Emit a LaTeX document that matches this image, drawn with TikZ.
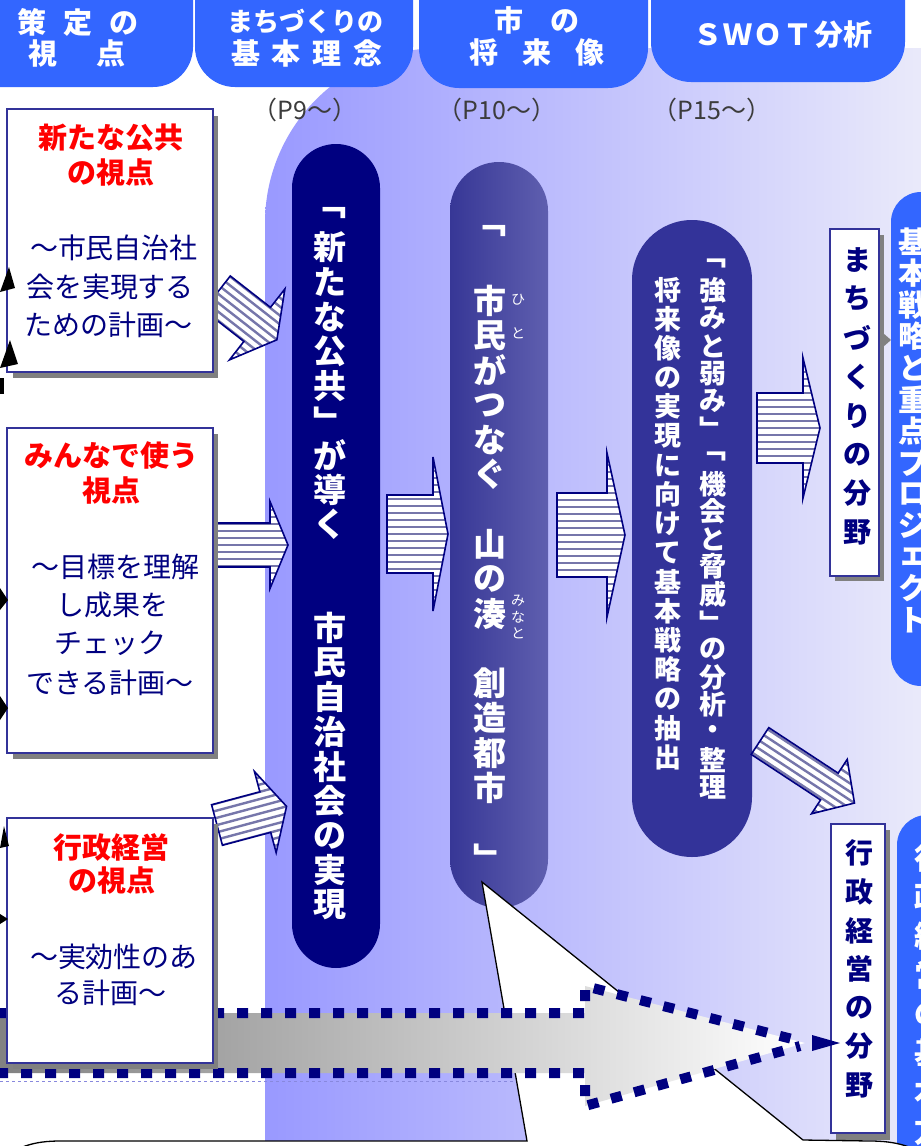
\documentclass[tikz,border=0pt]{standalone}
\usepackage{fontspec}
\setmainfont{Noto Sans CJK JP}
\definecolor{hdrblue}{RGB}{51,102,255}
\definecolor{navy}{RGB}{0,0,128}
\definecolor{pilthree}{RGB}{51,51,153}
\definecolor{bxborder}{RGB}{51,51,153}
\definecolor{stripeclr}{RGB}{118,118,170}
\definecolor{bgL}{RGB}{153,153,255}
\definecolor{bgR}{RGB}{234,234,250}
\definecolor{ptwoL}{RGB}{55,55,150}
\definecolor{ptwoR}{RGB}{95,95,175}
\definecolor{plabclr}{RGB}{60,60,60}
\definecolor{dashclr}{RGB}{136,136,221}
\definecolor{bandgray}{RGB}{128,128,128}
\tikzset{
 hdrtxt/.style={text=white, font=\fontsize{29}{30}\selectfont\bfseries, inner sep=0},
 plabel/.style={text=plabclr, font=\fontsize{25}{26}\selectfont, inner sep=0},
 boxtitle/.style={text=red, font=\fontsize{29}{30}\selectfont\bfseries, inner sep=0},
 boxbody/.style={text=navy, font=\fontsize{28}{30}\selectfont, inner sep=0},
 pilltxt/.style={text=white, font=\fontsize{33}{34}\selectfont\bfseries, inner sep=0},
 pthreetxt/.style={text=white, font=\fontsize{27}{30}\selectfont\bfseries, inner sep=0},
 rubytxt/.style={text=white, font=\fontsize{14}{15}\selectfont, inner sep=0},
 fieldtxt/.style={text=navy, font=\fontsize{28}{30}\selectfont\bfseries, inner sep=0},
 bluetxt/.style={text=white, font=\fontsize{30}{30}\selectfont\bfseries, inner sep=0},
 wbox/.style={fill=white, draw=bxborder, line width=2pt},
 shadowbox/.style={fill=gray},
}
% vertical column of characters: name, x, y0, pitch, style, list
\newcommand\vcol[6]{%
  \foreach \ch [count=\i from 0] in {#6} {\node[#5] (#1\i) at (#2,#3+\i*#4) {\ch};}}
% hatched block arrow: x, y (tail centre), angle, length, shaft half width, head half width, head length
\newcommand\hatcharrow[7]{%
 \begin{scope}[shift={(#1,#2)},rotate=#3]
  \fill[white] (0,-#5)--(#4-#7,-#5)--(#4-#7,-#6)--(#4,0)--(#4-#7,#6)--(#4-#7,#5)--(0,#5)--cycle;
  \begin{scope}
   \clip (0,-#5)--(#4-#7,-#5)--(#4-#7,-#6)--(#4,0)--(#4-#7,#6)--(#4-#7,#5)--(0,#5)--cycle;
   \foreach \k in {-14,...,14} {\draw[stripeclr, line width=2.4pt] (-5,\k*7) -- (#4+5,\k*7);}
  \end{scope}
  \draw[navy, line width=1.6pt, line join=miter] (0,-#5)--(#4-#7,-#5)--(#4-#7,-#6)--(#4,0)--(#4-#7,#6)--(#4-#7,#5)--(0,#5)--cycle;
 \end{scope}}
\begin{document}
\begin{tikzpicture}[x=1pt,y=-1pt]
\useasboundingbox (0,0) rectangle (921,1146);
\clip (0,0) rectangle (921,1146);
\fill[white] (0,0) rectangle (921,1146);
% background region
\shade[left color=bgL, right color=bgR] (265,1150) -- (265,223) .. controls (265,126.4) and (343.4,48) .. (440,48) -- (925,48) -- (925,1150) -- cycle;
% header pills
\fill[hdrblue, rounded corners=40pt] (-60,-60) rectangle (193,87);
\fill[hdrblue, rounded corners=40pt] (195,-60) rectangle (413,87);
\fill[hdrblue, rounded corners=40pt] (419,-60) rectangle (648,88);
\fill[hdrblue, rounded corners=40pt] (651,-60) rectangle (905,82);
\node[hdrtxt] (h1a) at (78,22) {策\hspace{17pt}定\hspace{17pt}の};
\node[hdrtxt] (h1b) at (77,53) {視\hspace{40pt}点};
\node[hdrtxt, font=\fontsize{26}{30}\selectfont\bfseries] (h2a) at (305,21) {まちづくりの};
\node[hdrtxt] (h2b) at (307,53) {基\hspace{12pt}本\hspace{12pt}理\hspace{12pt}念};
\node[hdrtxt] (h3a) at (537,20) {市\hspace{28pt}の};
\node[hdrtxt] (h3b) at (537,52) {将\hspace{24pt}来\hspace{24pt}像};
\node[hdrtxt] (h4) at (783,35) {Ｓ\hspace{1pt}Ｗ\hspace{1pt}Ｏ\hspace{1pt}Ｔ\hspace{2pt}分析};
% page labels
\node[plabel] (pl1) at (305,110) {（P9～）};
\node[plabel] (pl2) at (497,110) {（P10～）};
\node[plabel] (pl3) at (712,110) {（P15～）};
% thin dashed line
\draw[dashclr, dashed, line width=1pt] (0,1081) -- (600,1081);
% pillars
\fill[navy, rounded corners=44pt] (292,144) rectangle (380,968);
\shade[left color=ptwoL, right color=ptwoR, rounded corners=49pt] (450,162) rectangle (548,908);
\fill[pilthree, rounded corners=60pt] (632,220) rectangle (752,857);
\vcol{pa}{330}{213}{34.6}{pilltxt}{﹁,新,た,な,公,共,﹂,が,導,く,{},{},市,民,自,治,社,会,の,実,現}
\vcol{pb}{490}{231}{34.8}{pilltxt}{﹁,{},市,民,が,つ,な,ぐ,{},山,の,湊,{},創,造,都,市,{},﹂}
\node[rubytxt] (rb1) at (518,300) {ひ};
\node[rubytxt] (rb2) at (518,333) {と};
\node[rubytxt] (rb3) at (518,601) {み};
\node[rubytxt] (rb4) at (518,617) {な};
\node[rubytxt] (rb5) at (518,633) {と};
\vcol{pc}{713}{263}{27.6}{pthreetxt}{﹁,強,み,と,弱,み,﹂,﹁,機,会,と,脅,威,﹂,の,分,析,・,整,理}
\vcol{pd}{668}{290}{29.2}{pthreetxt}{将,来,像,の,実,現,に,向,け,て,基,本,戦,略,の,抽,出}
% hatched arrows
\hatcharrow{217}{293}{-38}{76}{21.6}{45}{25}
\hatcharrow{216}{545}{0}{72}{22}{43.5}{18}
\hatcharrow{217}{825}{15}{72}{21}{42}{22}
\hatcharrow{387}{534}{0}{61}{39}{77}{15}
\hatcharrow{557}{535}{0}{68}{42}{82}{18}
\hatcharrow{757}{428}{0}{63}{35}{70}{17}
\hatcharrow{760}{741}{-33.3}{113}{16}{32.5}{30}
% right side boxes
\fill[shadowbox] (835,235) rectangle (884,581);
\draw[wbox] (830,229) rectangle (879,576);
\vcol{fa}{857}{260}{38.9}{fieldtxt}{ま,ち,づ,く,り,の,分,野}
\fill[shadowbox] (836,830) rectangle (890,1140);
\draw[wbox] (831,824) rectangle (885,1133);
\vcol{fb}{859}{853}{38.7}{fieldtxt}{行,政,経,営,の,分,野}
\fill[gray] (883,333) -- (891,340) -- (883,347) -- cycle;
\fill[hdrblue, rounded corners=30pt] (891,192) rectangle (970,686);
\vcol{ba}{913}{242}{31.5}{bluetxt}{基,本,戦,略,と,重,点,プ,ロ,ジ,ェ,ク,ト}
\fill[hdrblue, rounded corners=30pt] (897,815) rectangle (975,1220);
\vcol{bb}{929}{858}{39}{bluetxt}{行,政,経,営,の,基,本,方,針}
% callout with tail
\draw[black, line width=1.3pt, fill=white] (-5,1165) .. controls (15,1146) and (35,1141) .. (60,1141) -- (527,1141) -- (482,882) -- (803,1140) -- (870,1141) .. controls (895,1141) and (915,1146) .. (930,1160) -- (930,1170) -- (-5,1170) -- cycle;
% big dotted gray arrow
\shade[left color=bandgray, right color=white] (-10,1013) -- (585,1013) -- (585,986) -- (805,1043) -- (585,1106) -- (585,1073) -- (-10,1073) -- cycle;
\draw[navy, line width=10pt, dash pattern=on 11pt off 13pt] (-3,1013) -- (585,1013) -- (585,986) -- (800,1041);
\draw[navy, line width=10pt, dash pattern=on 11pt off 13pt] (-3,1073) -- (585,1073) -- (585,1106) -- (800,1046);
\fill[navy] (812,1035) -- (840,1043) -- (812,1051) -- cycle;
% left boxes
\fill[shadowbox] (13,116) rectangle (218,378);
\draw[wbox] (7,109) rectangle (213,372);
\node[boxtitle] (t1a) at (111,138) {新たな公共};
\node[boxtitle] (t1b) at (111,172) {の視点};
\node[boxbody] (b1a) at (114,248) {～市民自治社};
\node[boxbody] (b1b) at (110,287) {会を実現する};
\node[boxbody] (b1c) at (108,325) {ための計画～};
\fill[shadowbox] (13,434) rectangle (218,759);
\draw[wbox] (7,428) rectangle (213,753);
\node[boxtitle] (t2a) at (111,455) {みんなで使う};
\node[boxtitle] (t2b) at (111,490) {視点};
\node[boxbody] (b2a) at (115,567) {～目標を理解};
\node[boxbody] (b2b) at (112,605) {し成果を};
\node[boxbody] (b2c) at (110,643) {チェック};
\node[boxbody] (b2d) at (110,683) {できる計画～};
\fill[shadowbox] (13,824) rectangle (218,1069);
\draw[wbox] (7,818) rectangle (213,1063);
\node[boxtitle] (t3a) at (111,847) {行政経営};
\node[boxtitle] (t3b) at (112,880) {の視点};
\node[boxbody] (b3a) at (114,957) {～実効性のあ};
\node[boxbody] (b3b) at (110,993) {る計画～};
% black arrow heads at the left edge
\fill[black] (0,292) -- (9,267) -- (15,288) -- cycle;
\fill[black] (0,368) -- (10,340) -- (18,364) -- cycle;
\fill[black] (0,378) -- (4,378) -- (4,394) -- (0,394) -- cycle;
\fill[black] (0,588) -- (8,600) -- (0,610) -- cycle;
\fill[black] (0,696) -- (8,708) -- (0,720) -- cycle;
\fill[black] (0,848) -- (4,826) -- (9,846) -- cycle;
\fill[black] (0,914) -- (8,919) -- (0,924) -- cycle;
\end{tikzpicture}
\end{document}
